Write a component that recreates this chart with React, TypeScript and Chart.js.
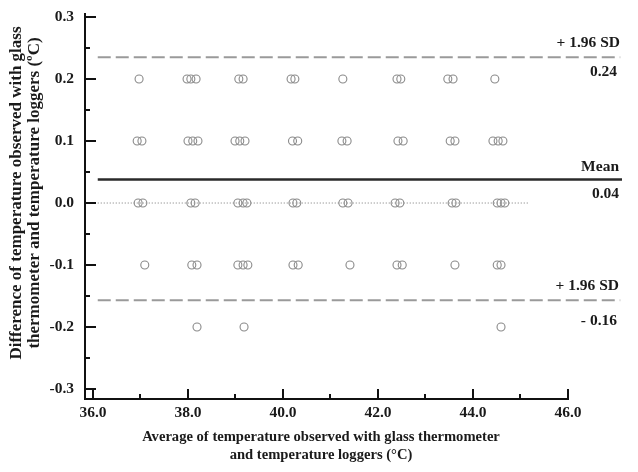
import React, { useEffect, useRef } from 'react';
import { Chart, registerables } from 'chart.js';

Chart.register(...registerables);

const FONT = '"Liberation Serif", "Times New Roman", serif';

// Difference levels (°C) and the averages (°C) of the points on each level
const level020 = [36.97, 37.98, 38.06, 38.17, 39.07, 39.16, 40.17, 40.25, 41.26, 42.40, 42.48, 43.47, 43.58, 44.46];
const level010 = [36.93, 37.03, 38.0, 38.1, 38.21, 38.99, 39.09, 39.2, 40.2, 40.31, 41.24, 41.35, 42.42, 42.53, 43.52, 43.62, 44.42, 44.53, 44.63];
const level000 = [36.95, 37.05, 38.06, 38.15, 39.05, 39.16, 39.24, 40.21, 40.29, 41.26, 41.37, 42.36, 42.46, 43.56, 43.64, 44.51, 44.59, 44.67];
const levelM010 = [37.09, 38.08, 38.19, 39.05, 39.16, 39.26, 40.21, 40.32, 41.41, 42.4, 42.51, 43.62, 44.51, 44.59];
const levelM020 = [38.19, 39.18, 44.59];

const levels = [0.2, 0.1, 0.0, -0.1, -0.2];
const levelAverages = [level020, level010, level000, levelM010, levelM020];

// Agreement lines
const upperLimit = 0.235;
const meanDiff = 0.038;
const lowerLimit = -0.157;
const lineStart = 36.1;
const lineEnd = 47.1;
const zeroLineEnd = 45.16;

const upperLabels = ['+ 1.96 SD', '0.24'];
const meanLabels = ['Mean', '0.04'];
const lowerLabels = ['+ 1.96 SD', '- 0.16'];

// Ticks
const xMajorTicks = [36, 38, 40, 42, 44, 46];
const xMinorTicks = [37, 39, 41, 43, 45];
const yMajorTicks = [0.3, 0.2, 0.1, 0.0, -0.1, -0.2, -0.3];
const yMinorTicks = [0.25, 0.15, 0.05, -0.05, -0.15, -0.25];

const xTitle = ['Average of temperature observed with glass thermometer', 'and temperature loggers (°C)'];
const yTitle = ['Difference of temperature observed with glass', 'thermometer and temperature loggers (ºC)'];

const axesPlugin = {
  id: 'customAxes',
  afterDraw(chart: any) {
    const { ctx, chartArea } = chart;
    const xs = chart.scales.x;
    const ys = chart.scales.y;
    const left = chartArea.left;
    const bottom = chartArea.bottom;
    ctx.save();
    ctx.strokeStyle = '#111';
    ctx.lineWidth = 2;
    ctx.beginPath();
    ctx.moveTo(left, chartArea.top);
    ctx.lineTo(left, bottom);
    ctx.lineTo(xs.getPixelForValue(46) + 1, bottom);
    ctx.stroke();

    ctx.beginPath();
    yMajorTicks.forEach((v) => {
      const y = Math.round(ys.getPixelForValue(v));
      ctx.moveTo(left, y);
      ctx.lineTo(left + 11, y);
    });
    yMinorTicks.forEach((v) => {
      const y = Math.round(ys.getPixelForValue(v));
      ctx.moveTo(left, y);
      ctx.lineTo(left + 5, y);
    });
    xMajorTicks.forEach((v) => {
      const x = Math.round(xs.getPixelForValue(v));
      ctx.moveTo(x, bottom);
      ctx.lineTo(x, bottom - 10);
    });
    xMinorTicks.forEach((v) => {
      const x = Math.round(xs.getPixelForValue(v));
      ctx.moveTo(x, bottom);
      ctx.lineTo(x, bottom - 5);
    });
    ctx.stroke();

    ctx.fillStyle = '#1a1a1a';
    ctx.font = `bold 15.5px ${FONT}`;
    ctx.textAlign = 'right';
    ctx.textBaseline = 'middle';
    yMajorTicks.forEach((v) => {
      ctx.fillText(v.toFixed(1), left - 11, ys.getPixelForValue(v));
    });
    ctx.textAlign = 'center';
    xMajorTicks.forEach((v) => {
      ctx.fillText(v.toFixed(1), xs.getPixelForValue(v), bottom + 14);
    });

    // line labels
    ctx.textAlign = 'right';
    const rx = chartArea.right - 3;
    const uy = ys.getPixelForValue(upperLimit);
    const my = ys.getPixelForValue(meanDiff);
    const ly = ys.getPixelForValue(lowerLimit);
    ctx.fillText(upperLabels[0], rx + 1, uy - 14);
    ctx.fillText(upperLabels[1], rx - 2, uy + 15);
    ctx.fillText(meanLabels[0], rx, my - 12);
    ctx.fillText(meanLabels[1], rx, my + 15);
    ctx.fillText(lowerLabels[0], rx, ly - 14);
    ctx.fillText(lowerLabels[1], rx - 2, ly + 21);

    // axis titles
    ctx.font = `bold 14.6px ${FONT}`;
    ctx.textAlign = 'center';
    ctx.fillText(xTitle[0], 321, 437);
    ctx.fillText(xTitle[1], 321, 455);

    ctx.save();
    ctx.translate(17, 193);
    ctx.rotate(-Math.PI / 2);
    ctx.font = `bold 17px ${FONT}`;
    ctx.fillText(yTitle[0], 0, 0);
    ctx.fillText(yTitle[1], 0, 18);
    ctx.restore();
    ctx.restore();
  },
};

export default function App() {
  const canvasRef = useRef<HTMLCanvasElement | null>(null);

  useEffect(() => {
    if (!canvasRef.current) return;
    const points: { x: number; y: number }[] = [];
    levels.forEach((lv, i) => {
      levelAverages[i].forEach((avg) => points.push({ x: avg, y: lv }));
    });

    const chart = new Chart(canvasRef.current, {
      type: 'scatter',
      data: {
        datasets: [
          {
            data: points,
            pointStyle: 'circle',
            pointRadius: 4,
            pointBorderWidth: 1.1,
            borderColor: '#8a8a8a',
            backgroundColor: 'rgba(0,0,0,0)',
            showLine: false,
          },
          {
            data: [{ x: lineStart, y: 0 }, { x: zeroLineEnd, y: 0 }],
            showLine: true,
            borderColor: '#777',
            borderWidth: 1,
            borderDash: [1, 2],
            pointRadius: 0,
          },
          {
            data: [{ x: lineStart, y: upperLimit }, { x: lineEnd, y: upperLimit }],
            showLine: true,
            borderColor: '#9a9a9a',
            borderWidth: 2,
            borderDash: [13, 5],
            pointRadius: 0,
          },
          {
            data: [{ x: lineStart, y: meanDiff }, { x: 47.14, y: meanDiff }],
            showLine: true,
            borderColor: '#2a2a2a',
            borderWidth: 2.5,
            pointRadius: 0,
          },
          {
            data: [{ x: lineStart, y: lowerLimit }, { x: lineEnd, y: lowerLimit }],
            showLine: true,
            borderColor: '#9a9a9a',
            borderWidth: 2,
            borderDash: [13, 5],
            pointRadius: 0,
          },
        ],
      },
      options: {
        animation: false,
        responsive: false,
        maintainAspectRatio: false,
        devicePixelRatio: 1,
        layout: { padding: { left: 85, right: 16, top: 13, bottom: 73 } },
        plugins: { legend: { display: false }, tooltip: { enabled: false } },
        scales: {
          x: { type: 'linear', min: 35.8316, max: 47.137, display: false },
          y: { type: 'linear', min: -0.3161, max: 0.3065, display: false },
        },
        elements: { line: { tension: 0 } },
      },
      plugins: [axesPlugin],
    } as any);
    return () => chart.destroy();
  }, []);

  return (
    <div style={{ position: 'fixed', left: 0, top: 0, width: 638, height: 472, background: '#fff' }}>
      <canvas ref={canvasRef} width={638} height={472} style={{ width: 638, height: 472, display: 'block' }} />
    </div>
  );
}
